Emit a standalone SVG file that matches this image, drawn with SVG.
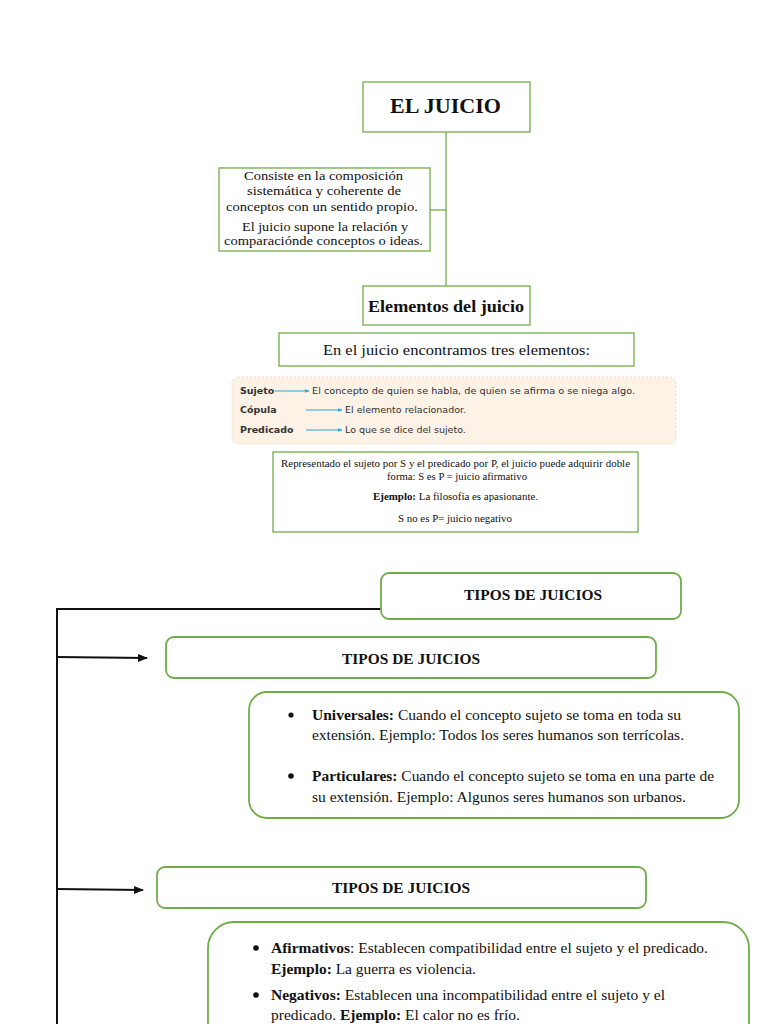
<svg xmlns="http://www.w3.org/2000/svg" width="768" height="1024" viewBox="0 0 768 1024">
<defs>
<style>
.sq{fill:#fff;stroke:#70AD47;stroke-width:1.3}
.rd{fill:#fff;stroke:#70AD47;stroke-width:1.8}
.t{font-family:"Liberation Serif","Times New Roman",serif;fill:#111}
.b{font-weight:bold}
.s{font-family:"DejaVu Sans","Liberation Sans",sans-serif;fill:#333;font-size:9.5px}
.gl{stroke:#70AD47;stroke-width:1.3;fill:none}
.bl{stroke:#111;stroke-width:2;fill:none}
.cy{stroke:#29a8e0;stroke-width:1.2;fill:none}
.c13{font-size:13.5px}
.c15{font-size:15px}
.c11{font-size:10.8px}
</style>
<marker id="ah" viewBox="0 0 10 10" refX="9" refY="5" markerWidth="5" markerHeight="5" orient="auto"><path d="M0,1 L10,5 L0,9 z" fill="#111"/></marker>
<marker id="ab" viewBox="0 0 10 10" refX="9" refY="5" markerWidth="4" markerHeight="4" orient="auto"><path d="M0,1 L10,5 L0,9 z" fill="#29a8e0"/></marker>
</defs>
<rect width="768" height="1024" fill="#fff"/>

<g id="connectors">
<line class="gl" x1="446" y1="132" x2="446" y2="286"/>
<line class="gl" x1="430" y1="210" x2="446" y2="210"/>
<line class="bl" x1="57" y1="608" x2="57" y2="1024"/>
<line class="bl" x1="56" y1="609" x2="381" y2="609"/>
<line class="bl" x1="57" y1="657" x2="147" y2="658" marker-end="url(#ah)"/>
<line class="bl" x1="57" y1="889" x2="143" y2="890" marker-end="url(#ah)"/>
</g>

<g id="n-juicio">
<rect class="sq" x="363" y="82" width="167" height="50"/>
<text class="t b" x="390" y="113" font-size="21" textLength="111" lengthAdjust="spacingAndGlyphs">EL JUICIO</text>
</g>

<g id="n-consiste">
<rect class="sq" x="219" y="168" width="211" height="83"/>
<text class="t c13" x="244" y="180" textLength="159" lengthAdjust="spacingAndGlyphs">Consiste en la composición</text>
<text class="t c13" x="247" y="195" textLength="154" lengthAdjust="spacingAndGlyphs">sistemática y coherente de</text>
<text class="t c13" x="226" y="211" textLength="192" lengthAdjust="spacingAndGlyphs">conceptos con un sentido propio.</text>
<text class="t c13" x="242" y="231" textLength="166" lengthAdjust="spacingAndGlyphs">El juicio supone la relación y</text>
<text class="t c13" x="224" y="245" textLength="199" lengthAdjust="spacingAndGlyphs">comparaciónde conceptos o ideas.</text>
</g>

<g id="n-elementos">
<rect class="sq" x="363" y="286" width="167" height="39"/>
<text class="t b" x="368" y="312" font-size="17" textLength="156" lengthAdjust="spacingAndGlyphs">Elementos del juicio</text>
</g>

<g id="n-encontramos">
<rect class="sq" x="279" y="333" width="355" height="33"/>
<text class="t" x="323" y="355" font-size="15.5" textLength="267" lengthAdjust="spacingAndGlyphs">En el juicio encontramos tres elementos:</text>
</g>

<g id="n-elementos-lista">
<rect x="232" y="377" width="444" height="67" rx="6" fill="#fdf2e6" stroke="#f1dcc2" stroke-width="1" stroke-dasharray="2 2"/>
<text class="s" x="240" y="394" font-weight="bold" fill="#222">Sujeto</text>
<line class="cy" x1="275" y1="391" x2="309" y2="391" marker-end="url(#ab)"/>
<text class="s" x="312" y="394" textLength="323" lengthAdjust="spacingAndGlyphs">El concepto de quien se habla, de quien se afirma o se niega algo.</text>
<text class="s" x="240" y="413" font-weight="bold" fill="#222">Cópula</text>
<line class="cy" x1="306" y1="410" x2="342" y2="410" marker-end="url(#ab)"/>
<text class="s" x="345" y="413" font-size="9">El elemento relacionador.</text>
<text class="s" x="240" y="433" font-weight="bold" fill="#222">Predicado</text>
<line class="cy" x1="306" y1="430" x2="342" y2="430" marker-end="url(#ab)"/>
<text class="s" x="345" y="433" font-size="9">Lo que se dice del sujeto.</text>
</g>

<g id="n-representado">
<rect class="sq" x="273" y="452" width="365" height="80"/>
<text class="t c11" x="281" y="467" textLength="349" lengthAdjust="spacingAndGlyphs">Representado el sujeto por S y el predicado por P, el juicio puede adquirir doble</text>
<text class="t c11" x="387" y="480" textLength="140" lengthAdjust="spacingAndGlyphs">forma: S es P = juicio afirmativo</text>
<text class="t c11" x="373" y="500" textLength="165" lengthAdjust="spacingAndGlyphs"><tspan font-weight="bold">Ejemplo:</tspan> La filosofía es apasionante.</text>
<text class="t c11" x="398" y="522" textLength="114" lengthAdjust="spacingAndGlyphs">S no es P= juicio negativo</text>
</g>

<g id="n-tipos1">
<rect class="rd" x="381" y="573" width="300" height="46" rx="8"/>
<text class="t b" x="464" y="600" font-size="15" textLength="138" lengthAdjust="spacingAndGlyphs">TIPOS DE JUICIOS</text>
</g>

<g id="n-tipos2">
<rect class="rd" x="166" y="637" width="490" height="41" rx="8"/>
<text class="t b" x="342" y="664" font-size="15" textLength="138" lengthAdjust="spacingAndGlyphs">TIPOS DE JUICIOS</text>
</g>

<g id="n-cantidad">
<rect class="rd" x="249" y="692" width="490" height="126" rx="18"/>
<circle cx="291" cy="715" r="2.6" fill="#111"/>
<text class="t c15" x="312" y="720" textLength="369" lengthAdjust="spacingAndGlyphs"><tspan font-weight="bold">Universales:</tspan> Cuando el concepto sujeto se toma en toda su</text>
<text class="t c15" x="312" y="740" textLength="372" lengthAdjust="spacingAndGlyphs">extensión. Ejemplo: Todos los seres humanos son terrícolas.</text>
<circle cx="291" cy="776" r="2.8" fill="#111"/>
<text class="t c15" x="312" y="781" textLength="402" lengthAdjust="spacingAndGlyphs"><tspan font-weight="bold">Particulares:</tspan> Cuando el concepto sujeto se toma en una parte de</text>
<text class="t c15" x="312" y="802" textLength="374" lengthAdjust="spacingAndGlyphs">su extensión. Ejemplo: Algunos seres humanos son urbanos.</text>
</g>

<g id="n-tipos3">
<rect class="rd" x="157" y="867" width="489" height="41" rx="8"/>
<text class="t b" x="332" y="893" font-size="15" textLength="138" lengthAdjust="spacingAndGlyphs">TIPOS DE JUICIOS</text>
</g>

<g id="n-cualidad">
<rect class="rd" x="208" y="922" width="541" height="140" rx="26"/>
<circle cx="256" cy="948" r="2.8" fill="#111"/>
<text class="t c15" x="271" y="953" textLength="437" lengthAdjust="spacingAndGlyphs"><tspan font-weight="bold">Afirmativos</tspan>: Establecen compatibilidad entre el sujeto y el predicado.</text>
<text class="t c15" x="271" y="974" textLength="205" lengthAdjust="spacingAndGlyphs"><tspan font-weight="bold">Ejemplo:</tspan> La guerra es violencia.</text>
<circle cx="256" cy="995" r="2.8" fill="#111"/>
<text class="t c15" x="271" y="1000" textLength="394" lengthAdjust="spacingAndGlyphs"><tspan font-weight="bold">Negativos:</tspan> Establecen una incompatibilidad entre el sujeto y el</text>
<text class="t c15" x="271" y="1020" textLength="249" lengthAdjust="spacingAndGlyphs">predicado. <tspan font-weight="bold">Ejemplo:</tspan> El calor no es frío.</text>
</g>
</svg>
